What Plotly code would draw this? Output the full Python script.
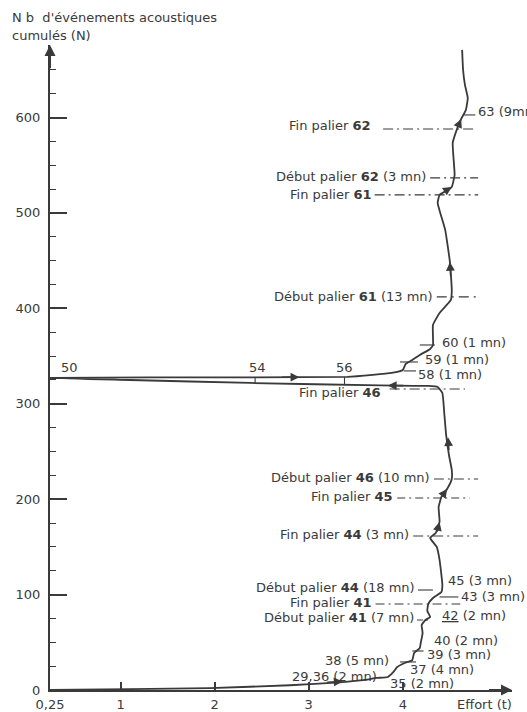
import plotly.graph_objects as go

# Cumulative acoustic events (N) versus applied load (t) during staged loading
effort_t = [0.25, 1.10, 1.95, 2.80, 3.33, 3.60, 3.72, 3.84, 3.90, 3.94, 4.02, 4.10, 4.12, 4.18,
            4.19, 4.21, 4.20, 4.24, 4.29, 4.26, 4.27, 4.32, 4.41, 4.42, 4.39, 4.36, 4.29, 4.35,
            4.39, 4.38, 4.41, 4.47, 4.52, 4.52, 4.49, 4.46, 4.44, 4.42, 4.37,
            # unloading
            4.27, 3.76, 2.38, 1.10, 0.25,
            # reloading
            1.31, 3.41, 3.68, 3.88, 4.00, 4.03, 4.10, 4.18, 4.29, 4.32, 4.32, 4.39, 4.51, 4.52,
            4.50, 4.45, 4.37, 4.39, 4.46, 4.52, 4.55, 4.54, 4.53, 4.58, 4.62, 4.67, 4.69, 4.66,
            4.64, 4.63]
events_n = [0, 1, 2, 5, 8, 10.5, 12.6, 13.6, 18.9, 24.1, 28.3, 31.4, 38.8, 44,
            49.3, 59.7, 68.1, 73.4, 76.5, 82.8, 90.1, 96.4, 102.7, 110, 136.3, 149.9, 159.3, 164.6,
            176.1, 191.8, 202.3, 210.7, 221.2, 230.6, 246.3, 267.3, 290.4, 311.3, 317.6,
            318.7, 319.2, 321.8, 324.9, 327,
            327.6, 328.1, 330.2, 332.3, 335.4, 341.7, 345.9, 351.2, 357.4, 361.6, 382.6, 395.2, 408.8, 419.3,
            448.6, 482.2, 510.5, 518.9, 523.1, 527.3, 539.8, 555.6, 573.4, 589.1, 598.5, 608, 620.5, 634.2,
            649.9, 670.9]

# Direction arrows along the path: tip (t, N) and tail (t, N)
arrow_tip_t = [3.36, 4.39, 4.47, 4.48, 4.50, 4.52, 4.62, 3.84, 2.90]
arrow_tip_n = [9.0, 176.1, 210.7, 265.0, 448.6, 527.3, 598.5, 319.2, 327.9]
arrow_tail_t = [3.18, 4.36, 4.41, 4.49, 4.51, 4.45, 4.58, 4.02, 2.70]
arrow_tail_n = [8.0, 164.6, 202.3, 250.0, 432.0, 522.8, 589.1, 319.0, 327.8]

# Stage labels ending to the left of the curve, with their reference lines
stage_text = ["Fin palier <b>62</b>", "Début palier <b>62</b> (3 mn)", "Fin palier <b>61</b>",
              "Début palier <b>61</b> (13 mn)", "Fin palier <b>46</b>", "Début palier <b>46</b> (10 mn)",
              "Fin palier <b>45</b>", "Fin palier <b>44</b> (3 mn)", "Début palier <b>44</b> (18 mn)",
              "Fin palier <b>41</b>", "Début palier <b>41</b> (7 mn)"]
stage_text_t = [3.68, 4.27, 3.69, 4.34, 3.79, 4.31, 3.92, 4.09, 4.15, 3.69, 4.14]
stage_text_n = [592, 538.5, 519.5, 412.5, 311.3, 222.2, 202.3, 162.5, 107.5, 91.5, 75.5]
stage_line_t0 = [3.79, 4.29, 3.70, 4.36, 3.86, 4.33, 3.94, 4.11, 4.16, 3.71, 4.15]
stage_line_t1 = [4.77, 4.80, 4.80, 4.82, 4.66, 4.80, 4.71, 4.80, 4.32, 4.61, 4.29]
stage_line_n = [588, 536.7, 518.9, 412, 315.5, 221.2, 201.3, 161.4, 104.8, 90.1, 73.4]
stage_line_dash = ["10px,4px,2px,4px", "10px,4px,2px,4px", "10px,4px,2px,4px", "10px,5px,2px,5px",
                   "10px,4px,2px,4px", "10px,4px,2px,4px", "8px,4px,2px,4px", "10px,4px,2px,4px",
                   "solid", "9px,4px,2px,4px", "6px,3px,2px,3px"]

# Step labels to the right of the curve
step_text = ["63 (9mn)", "60 (1 mn)", "59 (1 mn)", "58 (1 mn)", "45 (3 mn)", "43 (3 mn)",
             "<u>42</u> (2 mn)", "40 (2 mn)", "39 (3 mn)", "37 (4 mn)", "29,36 (2 mn)", "35 (2 mn)"]
step_text_t = [4.78, 4.39, 4.21, 4.14, 4.46, 4.60, 4.40, 4.31, 4.24, 4.05, 2.80, 3.84]
step_text_n = [606.5, 364.5, 346.5, 330.5, 114.5, 98.5, 78.6, 51.4, 36.7, 21.0, 14.5, 6.3]
# short marker lines next to the step labels
step_tick_t0 = [4.64, 4.18, 3.97, 4.01, 4.39, 4.10, 3.97]
step_tick_t1 = [4.77, 4.34, 4.16, 4.14, 4.59, 4.22, 4.14]
step_tick_n = [602.7, 361.6, 343.8, 334.4, 97.5, 40.9, 29.4]

# Labels on the horizontal unload/reload branch
branch_text = ["50", "54", "56", "38 (5 mn)"]
branch_text_t = [0.46, 2.46, 3.38, 3.51]
branch_text_n = [338.5, 338.5, 338.5, 30.4]
branch_tick_t = [2.43, 3.38]
branch_tick_n0 = [321.8, 319.6]
branch_tick_n1 = [327.8, 328.1]

x_ticks = [0.25, 1, 2, 3, 4]
x_tick_text = ["0,25", "1", "2", "3", "4"]

INK = "#3a3a3a"
FONT = "DejaVu Sans"

fig = go.Figure()
fig.add_trace(go.Scatter(x=effort_t, y=events_n, mode="lines",
                         line=dict(color=INK, width=1.8, shape="spline", smoothing=0.4),
                         hoverinfo="skip", showlegend=False))

shapes = []
for t0, t1, n, d in zip(stage_line_t0, stage_line_t1, stage_line_n, stage_line_dash):
    shapes.append(dict(type="line", xref="x", yref="y", x0=t0, x1=t1, y0=n, y1=n,
                       line=dict(color=INK, width=1.1, dash=d)))
for t0, t1, n in zip(step_tick_t0, step_tick_t1, step_tick_n):
    shapes.append(dict(type="line", xref="x", yref="y", x0=t0, x1=t1, y0=n, y1=n,
                       line=dict(color=INK, width=1.1)))
for t, n0, n1 in zip(branch_tick_t, branch_tick_n0, branch_tick_n1):
    shapes.append(dict(type="line", xref="x", yref="y", x0=t, x1=t, y0=n0, y1=n1,
                       line=dict(color=INK, width=1.1)))

annotations = []
for tt, tn, at, an in zip(arrow_tip_t, arrow_tip_n, arrow_tail_t, arrow_tail_n):
    annotations.append(dict(x=tt, y=tn, ax=at, ay=an, xref="x", yref="y", axref="x", ayref="y",
                            text="", showarrow=True, arrowhead=2, arrowsize=1.1,
                            arrowwidth=1.6, arrowcolor=INK, standoff=0))
for txt, t, n in zip(stage_text, stage_text_t, stage_text_n):
    annotations.append(dict(x=t, y=n, xref="x", yref="y", text=txt, showarrow=False,
                            xanchor="right", yanchor="middle",
                            font=dict(family=FONT, size=13, color=INK)))
for txt, t, n in zip(step_text, step_text_t, step_text_n):
    annotations.append(dict(x=t, y=n, xref="x", yref="y", text=txt, showarrow=False,
                            xanchor="left", yanchor="middle",
                            font=dict(family=FONT, size=13, color=INK)))
for txt, t, n in zip(branch_text, branch_text_t, branch_text_n):
    annotations.append(dict(x=t, y=n, xref="x", yref="y", text=txt, showarrow=False,
                            xanchor="center", yanchor="middle",
                            font=dict(family=FONT, size=13, color=INK)))

# Axis arrowheads
annotations.append(dict(x=0.25, y=676, ax=0.25, ay=650, xref="x", yref="y", axref="x", ayref="y",
                        text="", showarrow=True, arrowhead=2, arrowsize=1.1, arrowwidth=2,
                        arrowcolor=INK, standoff=0))
annotations.append(dict(x=5.16, y=0, ax=4.9, ay=0, xref="x", yref="y", axref="x", ayref="y",
                        text="", showarrow=True, arrowhead=2, arrowsize=1.1, arrowwidth=2,
                        arrowcolor=INK, standoff=0))

# Axis titles
annotations.append(dict(x=-0.087, y=1.043, xref="paper", yref="paper",
                        text="N b  d'événements acoustiques", showarrow=False,
                        xanchor="left", yanchor="middle", font=dict(family=FONT, size=13, color=INK)))
annotations.append(dict(x=-0.087, y=1.015, xref="paper", yref="paper",
                        text="cumulés (N)", showarrow=False,
                        xanchor="left", yanchor="middle", font=dict(family=FONT, size=13, color=INK)))
annotations.append(dict(x=0.877, y=-0.022, xref="paper", yref="paper",
                        text="Effort (t)", showarrow=False,
                        xanchor="left", yanchor="middle", font=dict(family=FONT, size=13, color=INK)))

fig.update_layout(
    width=527, height=712,
    margin=dict(l=50, r=15, t=45, b=22, pad=0, autoexpand=False),
    paper_bgcolor="white", plot_bgcolor="white",
    shapes=shapes, annotations=annotations,
    xaxis=dict(range=[0.25, 5.16], showline=True, linecolor=INK, linewidth=2, automargin=False,
               showgrid=False, zeroline=False, ticks="inside", ticklen=8, tickwidth=1.5,
               tickcolor=INK, tickvals=x_ticks, ticktext=x_tick_text,
               tickfont=dict(family=FONT, size=13, color=INK), ticklabelstandoff=1),
    yaxis=dict(range=[0, 676], showline=True, linecolor=INK, linewidth=2, automargin=False,
               showgrid=False, zeroline=False, ticks="inside", ticklen=17, tickwidth=1.5,
               tickcolor=INK, tickmode="linear", tick0=0, dtick=100,
               tickfont=dict(family=FONT, size=13, color=INK), ticklabelstandoff=5,
               minor=dict(ticks="inside", ticklen=6, tickwidth=1.2, tickcolor=INK,
                          tickmode="linear", tick0=0, dtick=25, showgrid=False)),
)

fig.write_html("out.html")
